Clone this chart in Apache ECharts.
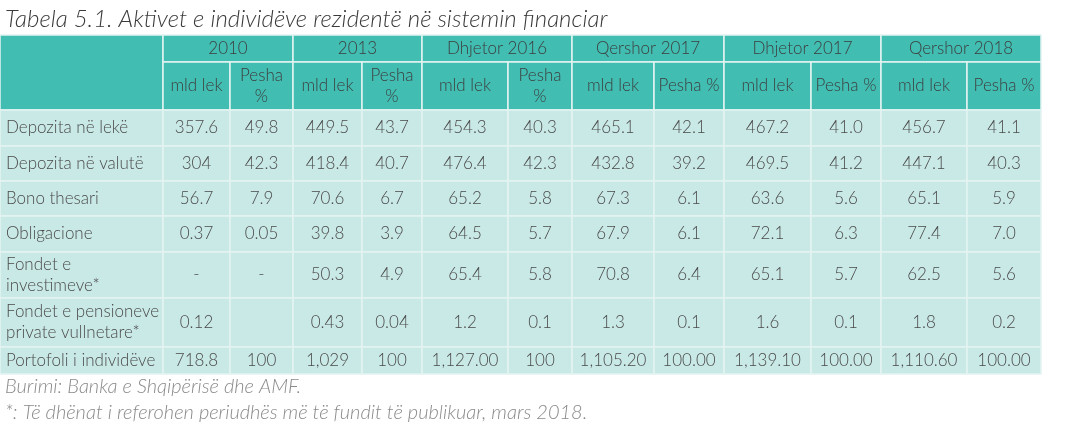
<!DOCTYPE html>
<html><head><meta charset="utf-8">
<script src="https://cdn.jsdelivr.net/npm/echarts@6/dist/echarts.min.js"></script>
<style>html,body{margin:0;padding:0;background:#fff}#c{width:1085px;height:428px}</style>
</head><body><div id="c"></div>
<script>
// ---- data ----
const tableTitle = 'Tabela 5.1. Aktivet e individëve rezidentë në sistemin financiar';
const sourceNote = 'Burimi: Banka e Shqipërisë dhe AMF.';
const starNote = '*: Të dhënat i referohen periudhës më të fundit të publikuar, mars 2018.';
const periods = ['2010', '2013', 'Dhjetor 2016', 'Qershor 2017', 'Dhjetor 2017', 'Qershor 2018'];
const subHeaders = [
  ['mld lek', 'Pesha\n%'], ['mld lek', 'Pesha\n%'], ['mld lek', 'Pesha\n%'],
  ['mld lek', 'Pesha %'], ['mld lek', 'Pesha %'], ['mld lek', 'Pesha %']
];
const rowLabels = ['Depozita në lekë', 'Depozita në valutë', 'Bono thesari', 'Obligacione',
  'Fondet e\ninvestimeve*', 'Fondet e pensioneve\nprivate vullnetare*', 'Portofoli i individëve'];
const mld2010 = ['357.6', '304', '56.7', '0.37', '-', '0.12', '718.8'];
const pesha2010 = ['49.8', '42.3', '7.9', '0.05', '-', '', '100'];
const mld2013 = ['449.5', '418.4', '70.6', '39.8', '50.3', '0.43', '1,029'];
const pesha2013 = ['43.7', '40.7', '6.7', '3.9', '4.9', '0.04', '100'];
const mldDhj2016 = ['454.3', '476.4', '65.2', '64.5', '65.4', '1.2', '1,127.00'];
const peshaDhj2016 = ['40.3', '42.3', '5.8', '5.7', '5.8', '0.1', '100'];
const mldQer2017 = ['465.1', '432.8', '67.3', '67.9', '70.8', '1.3', '1,105.20'];
const peshaQer2017 = ['42.1', '39.2', '6.1', '6.1', '6.4', '0.1', '100.00'];
const mldDhj2017 = ['467.2', '469.5', '63.6', '72.1', '65.1', '1.6', '1,139.10'];
const peshaDhj2017 = ['41.0', '41.2', '5.6', '6.3', '5.7', '0.1', '100.00'];
const mldQer2018 = ['456.7', '447.1', '65.1', '77.4', '62.5', '1.8', '1,110.60'];
const peshaQer2018 = ['41.1', '40.3', '5.9', '7.0', '5.6', '0.2', '100.00'];
const periodColumns = [
  [mld2010, pesha2010], [mld2013, pesha2013], [mldDhj2016, peshaDhj2016],
  [mldQer2017, peshaQer2017], [mldDhj2017, peshaDhj2017], [mldQer2018, peshaQer2018]
];

// ---- layout (sizes only) ----
const colWidths = [163, 67, 63, 69, 60, 86, 64, 82, 70, 87, 70, 86, 74];
const rowHeights = [27, 48, 36, 35, 35, 36, 46, 49, 27];
const colEdges = [0]; colWidths.forEach(w => colEdges.push(colEdges[colEdges.length - 1] + w));
const rowEdges = [0]; rowHeights.forEach(h => rowEdges.push(rowEdges[rowEdges.length - 1] + h));
const totalW = colEdges[colEdges.length - 1];
const totalH = rowEdges[rowEdges.length - 1];

const HEAD = '#41BDB2', BODY = '#C9E9E7', LINE = '#E4F4F2', TXT = '#4A4A4A';
const FONT = 'Lato';

// build cells
const cells = [];
function addCell(c0, c1, r0, r1, text, kind, align) {
  cells.push({ v: [colEdges[c0], rowEdges[r0], colEdges[c1], rowEdges[r1]], text, kind, align });
}
addCell(0, 1, 0, 2, '', 'head', 'center');
periods.forEach((p, i) => {
  addCell(1 + 2 * i, 3 + 2 * i, 0, 1, p, 'head', 'center');
  addCell(1 + 2 * i, 2 + 2 * i, 1, 2, subHeaders[i][0], 'head', 'center');
  addCell(2 + 2 * i, 3 + 2 * i, 1, 2, subHeaders[i][1], 'head', 'center');
});
rowLabels.forEach((lab, r) => {
  addCell(0, 1, 2 + r, 3 + r, lab, 'body', 'left');
  periodColumns.forEach((pc, i) => {
    addCell(1 + 2 * i, 2 + 2 * i, 2 + r, 3 + r, pc[0][r], 'body', 'center');
    addCell(2 + 2 * i, 3 + 2 * i, 2 + r, 3 + r, pc[1][r], 'body', 'center');
  });
});

const chart = echarts.init(document.getElementById('c'), null, { renderer: 'canvas' });
chart.setOption({
  animation: false,
  title: [
    { text: tableTitle, left: 0, top: 2, textStyle: { fontFamily: FONT, fontStyle: 'italic', fontWeight: 300, fontSize: 24, color: '#3a3a3a' } },
    { text: sourceNote, left: 0, top: 372, textStyle: { fontFamily: FONT, fontStyle: 'italic', fontWeight: 300, fontSize: 20, color: '#8a8a8a' } },
    { text: starNote, left: 0, top: 398, textStyle: { fontFamily: FONT, fontStyle: 'italic', fontWeight: 300, fontSize: 20, color: '#8a8a8a' } }
  ],
  grid: { left: 0, top: 35, width: totalW, height: totalH },
  xAxis: { type: 'value', min: 0, max: totalW, show: false },
  yAxis: { type: 'value', min: 0, max: totalH, inverse: true, show: false },
  series: [{
    type: 'custom',
    data: cells.map(c => c.v),
    encode: { x: [0, 2], y: [1, 3] },
    renderItem: function (params, api) {
      const c = cells[params.dataIndex];
      const p0 = api.coord([api.value(0), api.value(1)]);
      const p1 = api.coord([api.value(2), api.value(3)]);
      const w = p1[0] - p0[0], h = p1[1] - p0[1];
      const isHead = c.kind === 'head';
      return {
        type: 'group',
        children: [
          { type: 'rect', shape: { x: p0[0], y: p0[1], width: w, height: h },
            style: { fill: isHead ? HEAD : BODY, stroke: LINE, lineWidth: 1.5 } },
          { type: 'text',
            x: c.align === 'left' ? p0[0] + 6 : p0[0] + w / 2,
            y: p0[1] + h / 2,
            style: { text: c.text, align: c.align, verticalAlign: 'middle',
              fontFamily: FONT, fontSize: 17, fontWeight: 300, lineHeight: 21,
              fill: isHead ? '#3d3d3d' : TXT } }
        ]
      };
    }
  }]
});
</script></body></html>
